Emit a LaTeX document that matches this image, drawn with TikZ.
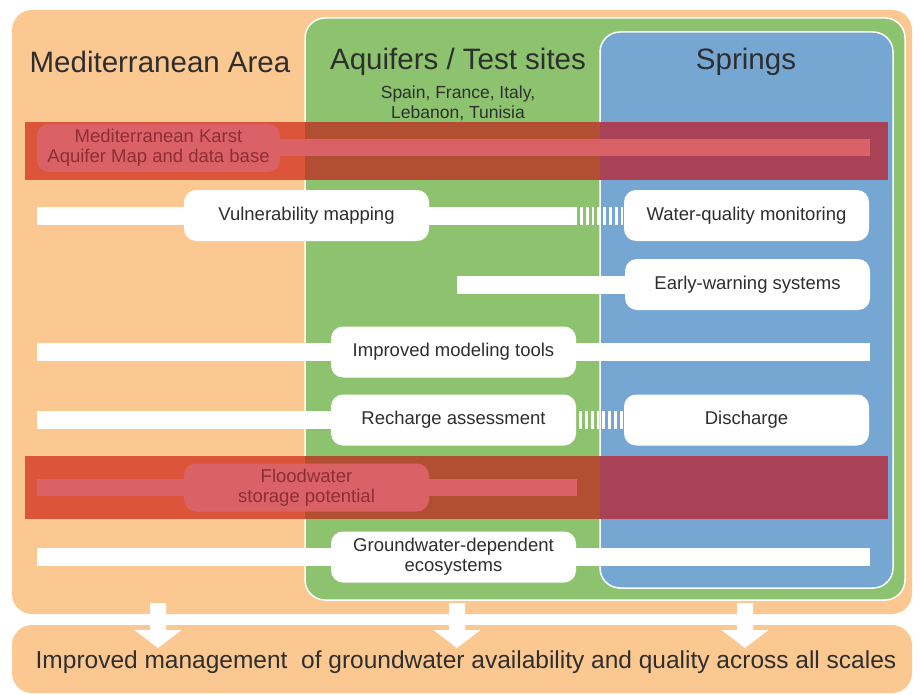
\documentclass[tikz,border=0pt]{standalone}
\usepackage{fontspec}
\setmainfont{Liberation Sans}
\definecolor{areaorange}{HTML}{FBC891}
\definecolor{sitegreen}{HTML}{8DC36F}
\definecolor{springblue}{HTML}{75A7D2}
\definecolor{redA}{HTML}{DC553A}
\definecolor{redB}{HTML}{B24E32}
\definecolor{redC}{HTML}{A94157}
\definecolor{pinkbox}{HTML}{DA6266}
\definecolor{darkred}{HTML}{8E2E33}
\definecolor{textgray}{HTML}{2E2E2E}

\begin{document}
\begin{tikzpicture}[x=1pt, y=-1pt,
  box/.style = {fill=white, rounded corners=12pt, minimum width=245pt, minimum height=51pt,
    text=textgray, font=\fontsize{18.5}{20}\selectfont, align=center},
  redbox/.style = {box, fill=pinkbox, text=darkred, minimum height=48pt},
  bar/.style = {white, line width=18pt},
  redbar/.style = {pinkbox, line width=17pt},
  stripes/.style = {white, line width=18pt, dash pattern=on 2.8pt off 3pt, dash phase=2.8pt},
  title/.style = {font=\fontsize{29.5}{32}\selectfont, text=textgray}]
  \useasboundingbox (0,0) rectangle (920,695);

  % columns
  \fill[areaorange, rounded corners=20pt] (12,10) rectangle (912,614);
  \draw[fill=sitegreen, draw=white, line width=1.5pt, rounded corners=20pt] (305,18) rectangle (905,600);
  \draw[fill=springblue, draw=white, line width=1.5pt, rounded corners=20pt] (600,32) rectangle (893,588);
  \fill[areaorange, rounded corners=20pt] (12,625) rectangle (912,693);

  % red bands
  \foreach \ya/\yb in {122/180, 456/519} {
    \fill[redA] (25,\ya) rectangle (305,\yb);
    \fill[redB] (305,\ya) rectangle (600,\yb);
    \fill[redC] (600,\ya) rectangle (888,\yb);
  }

  \node[title] (area) at (160,62) {Mediterranean Area};
  \node[title] (sites) at (458,62) {Aquifers / Test sites};
  \node[title] (springs) at (746,62) {Springs};
  \node[font=\fontsize{17.5}{20}\selectfont, text=textgray, align=center] (countries) at (458,103) {Spain, France, Italy,\\Lebanon, Tunisia};

  \node[redbox, minimum width=243pt] (karst) at (158.5,148) {Mediterranean Karst\\Aquifer Map and data base};
  \node[box] (vuln) at (306.5,215.5) {Vulnerability mapping};
  \node[box] (wqm) at (746.5,215.5) {Water-quality monitoring};
  \node[box] (ews) at (747.5,284.5) {Early-warning systems};
  \node[box] (model) at (453.5,352) {Improved modeling tools};
  \node[box] (recharge) at (453.5,420) {Recharge assessment};
  \node[box] (discharge) at (746.5,420) {Discharge};
  \node[redbox] (flood) at (306.5,487.5) {Floodwater\\storage potential};
  \node[box] (gde) at (453.5,557) {Groundwater-dependent\\ecosystems};

  \coordinate (karstR) at (870,148);
  \coordinate (vulnL) at (37,215.5);
  \coordinate (vulnD) at (577,215.5);
  \coordinate (ewsL) at (457,284.5);
  \coordinate (modelL) at (37,352);
  \coordinate (modelR) at (870,352);
  \coordinate (rechargeL) at (37,420);
  \coordinate (floodL) at (37,487.5);
  \coordinate (floodR) at (577,487.5);
  \coordinate (gdeL) at (37,557);
  \coordinate (gdeR) at (870,557);

  \draw[redbar] (karst) -- (karstR);
  \draw[bar] (vulnL) -- (vuln);
  \draw[bar] (vuln) -- (vulnD);
  \draw[stripes] (vulnD) -- (wqm);
  \draw[bar] (ewsL) -- (ews);
  \draw[bar] (modelL) -- (model);
  \draw[bar] (model) -- (modelR);
  \draw[bar] (rechargeL) -- (recharge);
  \draw[stripes] (recharge) -- (discharge);
  \draw[redbar] (floodL) -- (flood);
  \draw[redbar] (flood) -- (floodR);
  \draw[bar] (gdeL) -- (gde);
  \draw[bar] (gde) -- (gdeR);

  % arrows down to the result
  \foreach \ax in {158,457,745}
    \fill[white] (\ax-8,603) -- (\ax+8,603) -- (\ax+8,630) -- (\ax+23.5,630) -- (\ax,648)
      -- (\ax-23.5,630) -- (\ax-8,630) -- cycle;

  \node[font=\fontsize{24.5}{28}\selectfont, text=textgray] (mgmt) at (466,662)
    {Improved management\ \ of groundwater availability and quality across all scales};
\end{tikzpicture}
\end{document}
